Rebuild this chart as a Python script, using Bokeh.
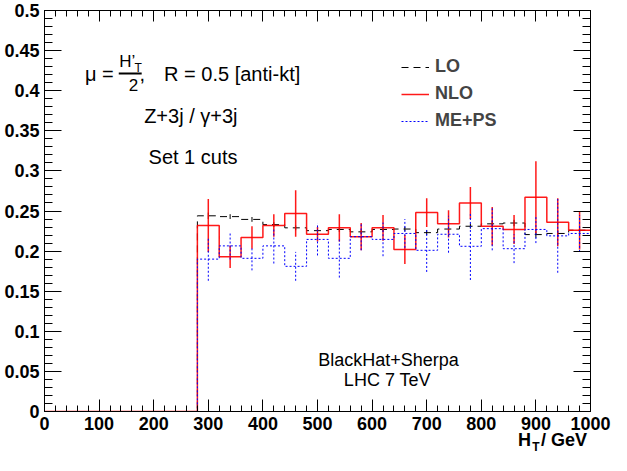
from bokeh.plotting import figure
from bokeh.models import (LinearAxis, SingleIntervalTicker, FixedTicker, CustomJSTickFormatter,
                          Label, Legend, LegendItem, Range1d)
from bokeh.embed import file_html
from bokeh.resources import INLINE

# ---------------- data ----------------
bin_edges = [0, 40, 80, 120, 160, 200, 240, 280, 320, 360, 400, 440, 480, 520,
             560, 600, 640, 680, 720, 760, 800, 840, 880, 920, 960, 1000]

lo_vals = [0, 0, 0, 0, 0, 0, 0,
           0.244, 0.243, 0.2395, 0.233, 0.229, 0.2255, 0.227, 0.224, 0.227,
           0.2275, 0.223, 0.2275, 0.231, 0.234, 0.235, 0.2206, 0.222, 0.226]
lo_errs = [0, 0, 0, 0, 0, 0, 0,
           0.004, 0.003, 0.003, 0.003, 0.003, 0.003, 0.003, 0.003, 0.003,
           0.003, 0.003, 0.003, 0.003, 0.004, 0.004, 0.004, 0.004, 0.004]

nlo_vals = [0, 0, 0, 0, 0, 0, 0,
            0.232, 0.193, 0.217, 0.232, 0.247, 0.221, 0.229, 0.218, 0.229,
            0.202, 0.248, 0.234, 0.260, 0.231, 0.227, 0.267, 0.236, 0.226]
nlo_errs = [0, 0, 0, 0, 0, 0, 0,
            0.033, 0.014, 0.014, 0.014, 0.029, 0.009, 0.017, 0.017, 0.016,
            0.018, 0.018, 0.017, 0.020, 0.024, 0.018, 0.045, 0.030, 0.024]

meps_vals = [0, 0, 0, 0, 0, 0, 0,
             0.190, 0.2065, 0.191, 0.2065, 0.181, 0.2146, 0.191, 0.218, 0.2146,
             0.222, 0.201, 0.221, 0.206, 0.228, 0.203, 0.227, 0.219, 0.222]
meps_errs = [0, 0, 0, 0, 0, 0, 0,
             0.027, 0.017, 0.015, 0.022, 0.018, 0.020, 0.024, 0.017, 0.021,
             0.018, 0.027, 0.023, 0.042, 0.027, 0.018, 0.017, 0.046, 0.023]

series_names = ["LO", "NLO", "ME+PS"]

FONT = "Liberation Sans"
NB = "\u00a0"

p = figure(frame_width=546, frame_height=401,
           min_border_left=44, min_border_right=21, min_border_top=10, min_border_bottom=44,
           x_range=Range1d(0, 1000), y_range=Range1d(0, 0.5),
           output_backend="svg", toolbar_location=None,
           background_fill_color="white", border_fill_color="white")
p.xgrid.visible = False
p.ygrid.visible = False
p.outline_line_color = "black"
p.outline_line_width = 1


def style_axis(ax, maj, mnr):
    ax.axis_line_color = "black"
    ax.axis_line_width = 1
    ax.major_tick_line_color = "black"
    ax.minor_tick_line_color = "black"
    ax.major_tick_in = maj
    ax.major_tick_out = 0
    ax.minor_tick_in = mnr
    ax.minor_tick_out = 0
    ax.major_label_text_font = FONT
    ax.major_label_text_font_style = "bold"
    ax.major_label_text_font_size = "18px"
    ax.major_label_text_color = "black"


xax = p.xaxis[0]
yax = p.yaxis[0]
xax.ticker = SingleIntervalTicker(interval=100, num_minor_ticks=5)
yax.ticker = SingleIntervalTicker(interval=0.05, num_minor_ticks=5)
yax.formatter = CustomJSTickFormatter(code="return Number(tick.toFixed(3)).toString();")
style_axis(xax, 12, 6)
style_axis(yax, 17, 8)
xax.major_label_standoff = 5
yax.major_label_standoff = 5

# x-axis title  H_T / GeV : centred axis labels, pushed to the right end with
# non-breaking spaces; the subscript T sits on a second, bare axis just below.
xax.axis_label = NB * 94 + "H" + NB + NB + "/ GeV"
xax.axis_label_text_font = FONT
xax.axis_label_text_font_style = "bold"
xax.axis_label_text_font_size = "18px"
xax.axis_label_text_color = "black"
xax.axis_label_standoff = -3

sub_ax = LinearAxis(ticker=FixedTicker(ticks=[]), axis_line_color=None,
                    major_tick_line_color=None, minor_tick_line_color=None,
                    major_label_standoff=0, major_label_text_font_size="1px",
                    axis_label=NB * 131 + "T", axis_label_text_font=FONT,
                    axis_label_text_font_style="bold", axis_label_text_font_size="12px",
                    axis_label_text_color="black", axis_label_standoff=-13)
p.add_layout(sub_ax, "below")

top_ax = LinearAxis(ticker=SingleIntervalTicker(interval=100, num_minor_ticks=5),
                    formatter=CustomJSTickFormatter(code="return '';"))
right_ax = LinearAxis(ticker=SingleIntervalTicker(interval=0.05, num_minor_ticks=5),
                      formatter=CustomJSTickFormatter(code="return '';"))
style_axis(top_ax, 11, 6)
style_axis(right_ax, 17, 8)
for ax in (top_ax, right_ax):
    ax.major_label_text_font_size = "1px"
    ax.major_label_standoff = 0
p.add_layout(top_ax, "above")
p.add_layout(right_ax, "right")

styles = [dict(line_color="black", line_width=1, line_dash="7 5"),
          dict(line_color="#ff0000", line_width=1.5, line_alpha=0.9),
          dict(line_color="#0000ff", line_width=1, line_dash="2 2")]

renderers = []
for vals, errs, st in zip([lo_vals, nlo_vals, meps_vals],
                          [lo_errs, nlo_errs, meps_errs], styles):
    r = p.step(x=bin_edges, y=vals + [vals[-1]], mode="after", **st)
    renderers.append(r)
    cx, y0, y1 = [], [], []
    for i, (v, e) in enumerate(zip(vals, errs)):
        if v > 0:
            cx.append((bin_edges[i] + bin_edges[i + 1]) / 2)
            y0.append(v - e)
            y1.append(v + e)
    p.segment(x0=cx, y0=y0, x1=cx, y1=y1, **st)

legend = Legend(items=[LegendItem(label=n, renderers=[r]) for n, r in zip(series_names, renderers)],
                location=(357, 280), orientation="vertical",
                glyph_width=28, glyph_height=20, label_height=20, spacing=6,
                label_standoff=6, padding=0, margin=0,
                border_line_color=None, background_fill_alpha=0,
                label_text_font=FONT, label_text_font_style="bold",
                label_text_font_size="18px")
p.add_layout(legend)


def add_text(x, y, text, size, align="left", bold=False):
    p.add_layout(Label(x=x, y=y, text=text,
                       text_font=FONT, text_font_size=size, text_align=align,
                       text_baseline="middle",
                       text_font_style="bold" if bold else "normal",
                       text_color="black"))


# scale formula  mu = H'_T / 2 , R = 0.5 [anti-kt]
add_text(74, 0.421, "\u03bc =", "20px")
add_text(137, 0.437, "H\u2019", "17px")
add_text(165, 0.4287, "T", "12px")
p.segment(x0=[136], y0=[0.4214], x1=[178], y1=[0.4214], line_color="black", line_width=2)
add_text(163, 0.407, "2", "17px", align="center")
add_text(174, 0.421, ",", "20px")
add_text(219, 0.421, "R = 0.5 [anti-kt]", "20px")

add_text(268, 0.369, "Z+3j / \u03b3+3j", "20px", align="center")
add_text(272, 0.317, "Set 1 cuts", "20px", align="center")
add_text(630, 0.0647, "BlackHat+Sherpa", "18px", align="center")
add_text(628, 0.039, "LHC 7 TeV", "18px", align="center")

open("out.html", "w").write(file_html(p, INLINE, title="HT ratio"))
